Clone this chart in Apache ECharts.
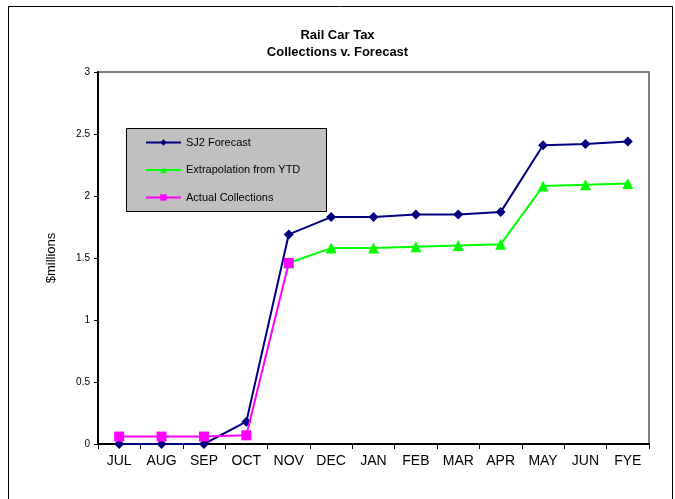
<!DOCTYPE html>
<html><head><meta charset="utf-8">
<script src="https://cdn.jsdelivr.net/npm/echarts@6/dist/echarts.min.js"></script>
<style>html,body{margin:0;padding:0;background:#fff}#c{width:675px;height:499px}</style>
</head><body><div id="c"></div>
<script>
var categories = ['JUL','AUG','SEP','OCT','NOV','DEC','JAN','FEB','MAR','APR','MAY','JUN','FYE'];
var sj2Forecast = [0, 0, 0, 0.18, 1.69, 1.83, 1.83, 1.85, 1.85, 1.87, 2.41, 2.42, 2.44];
var extrapolation = ['-', '-', '-', '-', 1.46, 1.58, 1.58, 1.59, 1.60, 1.61, 2.08, 2.09, 2.10];
var actual = [0.06, 0.06, 0.06, 0.07, 1.46, '-', '-', '-', '-', '-', '-', '-', '-'];
var seriesNames = ['SJ2 Forecast', 'Extrapolation from YTD', 'Actual Collections'];

var chart = echarts.init(document.getElementById('c'), null, {renderer: 'canvas'});
var font = 'Arial, "Liberation Sans", sans-serif';
chart.setOption({
  animation: false,
  backgroundColor: '#fff',
  textStyle: {fontFamily: font},
  title: {
    text: 'Rail Car Tax\nCollections v. Forecast',
    left: 'center', top: 22,
    textStyle: {fontFamily: font, fontSize: 13, fontWeight: 'bold', color: '#000', lineHeight: 17}
  },
  graphic: [
    {type: 'rect', left: 6, top: 4, shape: {width: 664, height: 520}, style: {fill: 'none', stroke: '#000', lineWidth: 1}, z: -1, silent: true},
    {type: 'rect', left: 126, top: 128, shape: {width: 200, height: 83}, style: {fill: '#c0c0c0', stroke: '#000', lineWidth: 1}, z: 5, silent: true}
  ],
  legend: {
    orient: 'vertical', left: 145, top: 128, padding: [9, 0, 9, 0],
    itemWidth: 35, itemHeight: 8, itemGap: 16.5, z: 6,
    textStyle: {fontFamily: font, fontSize: 11, color: '#000', padding: [0, 0, 0, 0]},
    data: seriesNames
  },
  grid: {left: 98, right: 26, top: 72, bottom: 55, show: true, borderColor: '#808080', borderWidth: 2, backgroundColor: 'transparent'},
  xAxis: {
    type: 'category', data: categories, boundaryGap: true,
    axisLine: {lineStyle: {color: '#000', width: 2}},
    axisTick: {show: true, length: 5, lineStyle: {color: '#000'}},
    axisLabel: {color: '#000', fontSize: 14, margin: 10, fontFamily: font, interval: 0},
    splitLine: {show: false}
  },
  yAxis: {
    type: 'value', min: 0, max: 3, interval: 0.5,
    name: '$millions', nameLocation: 'middle', nameGap: 40, nameRotate: 90,
    nameTextStyle: {color: '#000', fontSize: 13, fontFamily: font},
    axisLine: {show: true, lineStyle: {color: '#000', width: 2}},
    axisTick: {show: true, length: 4, lineStyle: {color: '#000'}},
    axisLabel: {color: '#000', fontSize: 10, margin: 8, fontFamily: font},
    splitLine: {show: false}
  },
  series: [
    {name: seriesNames[0], type: 'line', data: sj2Forecast, symbol: 'diamond', symbolSize: 10,
     itemStyle: {color: '#000080'}, lineStyle: {color: '#000080', width: 2}, z: 2},
    {name: seriesNames[1], type: 'line', data: extrapolation, symbol: 'triangle', symbolSize: 11,
     itemStyle: {color: '#00ff00'}, lineStyle: {color: '#00ff00', width: 2}, z: 3},
    {name: seriesNames[2], type: 'line', data: actual, symbol: 'rect', symbolSize: 10,
     itemStyle: {color: '#ff00ff'}, lineStyle: {color: '#ff00ff', width: 2}, z: 4}
  ]
});
</script></body></html>
